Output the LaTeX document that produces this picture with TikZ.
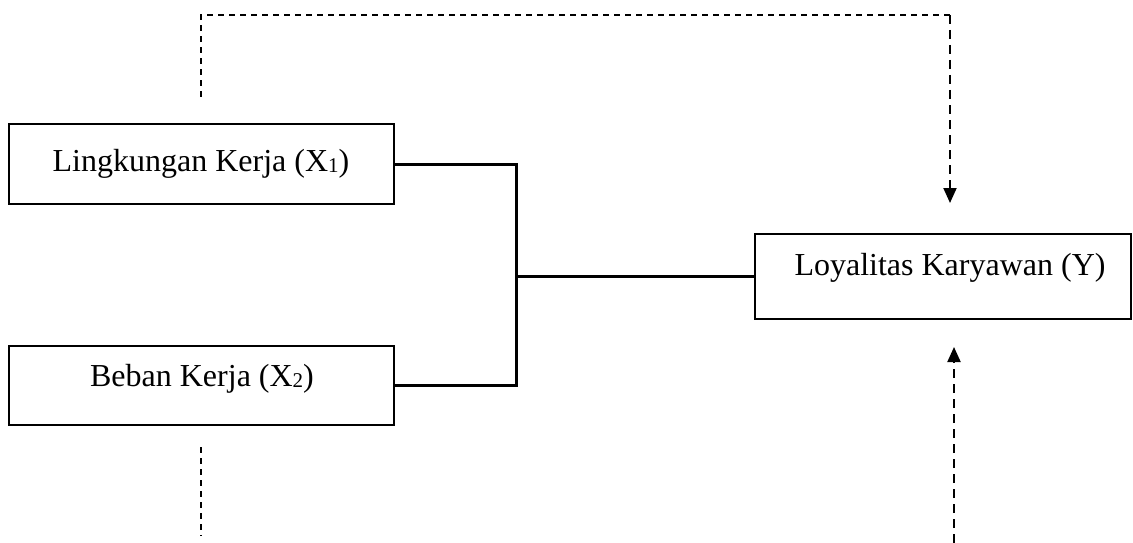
\documentclass[tikz,border=0pt]{standalone}
\usepackage{fontspec}
\setmainfont{Liberation Serif}
\usetikzlibrary{arrows.meta}
\newcommand{\subx}[1]{{\fontsize{21}{21}\selectfont\raisebox{-1pt}{#1}}}
\begin{document}
\begin{tikzpicture}[x=1pt,y=-1pt,
  box/.style={draw=black, line width=1.5pt, rectangle, inner sep=0pt},
  lbl/.style={font=\fontsize{32}{36}\selectfont},
  conn/.style={draw=black, line width=3pt},
  dashA/.style={draw=black, line width=1.4pt, dash pattern=on 6pt off 5pt},
  dashB/.style={draw=black, line width=2pt, dash pattern=on 9pt off 6pt},
  tip/.style={-{Triangle[width=13pt,length=15pt]}}]
\useasboundingbox (0,0) rectangle (1133,543);
\node[box, minimum width=385pt, minimum height=80pt] (x1) at (201.5,164) {};
\node[lbl] (t1) at (201,164) {Lingkungan Kerja (X\subx{1})};
\node[box, minimum width=385pt, minimum height=79pt] (x2) at (201.5,385.5) {};
\node[lbl] (t2) at (202,379) {Beban Kerja (X\subx{2})};
\node[box, minimum width=376pt, minimum height=85pt] (y) at (943,276.5) {};
\node[lbl] (ty) at (950,268) {Loyalitas Karyawan (Y)};
\coordinate (j) at (516,276.5);
\draw[conn] (x1.east) -| (j) -- (y.west);
\draw[conn] (x2.east) -| (j);
\coordinate (d1) at (201,97);
\coordinate (d2) at (201,15);
\coordinate (d3) at (950,15);
\coordinate (a1) at (950,203);
\draw[dashA] (d1) -- (d2) -- (d3);
\draw[dashB, tip] (d3) -- (a1);
\coordinate (b1) at (954,543);
\coordinate (a2) at (954,347);
\draw[dashB, tip] (b1) -- (a2);
\coordinate (l1) at (201,447);
\coordinate (l2) at (201,536);
\draw[dashA] (l1) -- (l2);
\end{tikzpicture}
\end{document}
